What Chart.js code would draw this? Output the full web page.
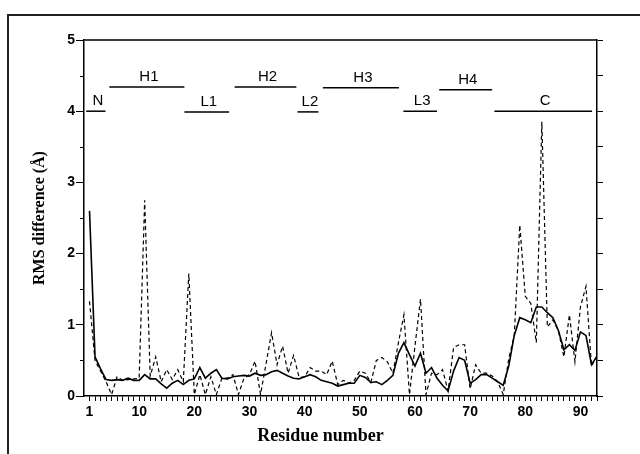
<!DOCTYPE html>
<html>
<head>
<meta charset="utf-8">
<script src="https://cdn.jsdelivr.net/npm/chart.js@4.4.1/dist/chart.umd.min.js"></script>
<style>
  html, body { margin: 0; padding: 0; background: #fff; }
  #wrap { position: relative; width: 640px; height: 454px; overflow: hidden; }
  #frame { position: absolute; left: 7px; top: 14px; width: 640px; height: 460px; border-top: 2px solid #222; border-left: 2px solid #222; pointer-events: none; }
  canvas { position: absolute; left: 0; top: 0; }
</style>
</head>
<body>
<div id="wrap">
  <canvas id="c" width="640" height="454"></canvas>
  <div id="frame"></div>
</div>
<script>
// ---- data ----
const residues = [1,2,3,4,5,6,7,8,9,10,11,12,13,14,15,16,17,18,19,20,21,22,23,24,25,26,27,28,29,30,
  31,32,33,34,35,36,37,38,39,40,41,42,43,44,45,46,47,48,49,50,51,52,53,54,55,56,57,58,59,60,
  61,62,63,64,65,66,67,68,69,70,71,72,73,74,75,76,77,78,79,80,81,82,83,84,85,86,87,88,89,90,91,92,93];

const rmsSolid = [2.6,0.55,0.38,0.23,0.22,0.23,0.22,0.25,0.22,0.22,0.3,0.24,0.24,0.17,0.11,0.18,0.22,0.16,0.22,0.24,
  0.4,0.25,0.32,0.37,0.25,0.24,0.27,0.28,0.29,0.28,0.32,0.29,0.3,0.34,0.36,0.32,0.28,0.25,0.24,0.27,
  0.3,0.27,0.22,0.2,0.18,0.14,0.16,0.18,0.18,0.29,0.26,0.19,0.2,0.16,0.22,0.29,0.6,0.75,0.58,0.42,
  0.6,0.32,0.4,0.25,0.15,0.07,0.35,0.54,0.5,0.18,0.23,0.3,0.3,0.25,0.2,0.15,0.42,0.85,1.1,1.07,
  1.03,1.25,1.25,1.17,1.1,0.92,0.65,0.72,0.64,0.9,0.85,0.44,0.56];

const rmsDashed = [1.33,0.5,0.35,0.2,0.02,0.27,0.22,0.23,0.24,0.25,2.75,0.28,0.55,0.2,0.37,0.23,0.37,0.2,1.72,0.02,
  0.3,0.02,0.27,0.02,0.25,0.25,0.3,0.02,0.25,0.3,0.49,0.02,0.45,0.89,0.44,0.7,0.32,0.57,0.26,0.27,
  0.4,0.35,0.35,0.3,0.49,0.16,0.22,0.18,0.22,0.35,0.32,0.19,0.5,0.54,0.48,0.32,0.75,1.14,0.02,0.7,
  1.36,0.02,0.32,0.3,0.37,0.07,0.68,0.72,0.72,0.1,0.44,0.32,0.32,0.28,0.2,0.02,0.52,0.85,2.4,1.4,
  1.3,0.75,3.85,0.97,1.07,0.92,0.55,1.14,0.48,1.25,1.54,0.42,0.56];

const xTickLabels = [1,10,20,30,40,50,60,70,80,90];
const yTickLabels = [0,1,2,3,4,5];
const yMinorTicks = [0,0.5,1,1.5,2,2.5,3,3.5,4,4.5,5];

// secondary-structure segments (residue ranges, height in Å)
const segNames = ['N','H1','L1','H2','L2','H3','L3','H4','C'];
const segStart = [0.4, 4.6, 18.2, 27.3, 38.7, 43.3, 57.9, 64.4, 74.4];
const segEnd   = [3.9, 18.2, 26.3, 38.5, 42.5, 57.1, 64.0, 74.0, 92.1];
const segLevel = [4.0, 4.34, 3.99, 4.34, 3.99, 4.33, 4.0, 4.3, 4.0];

const xTitle = 'Residue number';
const yTitle = 'RMS difference (Å)';

// ---- chart ----
const tickFont = { family: 'Liberation Sans, Arial, sans-serif', weight: 'bold', size: 14 };

const annot = {
  id: 'annot',
  afterDraw(chart) {
    const ctx = chart.ctx;
    const xs = chart.scales.x, ys = chart.scales.y;
    const ca = chart.chartArea;
    ctx.save();
    // minor ticks on left axis
    ctx.strokeStyle = '#000';
    ctx.lineWidth = 1;
    yMinorTicks.forEach(v => {
      if (Number.isInteger(v)) return;
      const y = Math.round(ys.getPixelForValue(v)) + 0.5;
      ctx.beginPath();
      ctx.moveTo(ca.left - 4, y);
      ctx.lineTo(ca.left, y);
      ctx.stroke();
    });
    // top border
    ctx.lineWidth = 1.5;
    ctx.beginPath();
    ctx.moveTo(ca.left, ca.top);
    ctx.lineTo(ca.right, ca.top);
    ctx.stroke();
    // segments
    ctx.lineWidth = 1.5;
    ctx.fillStyle = '#000';
    ctx.font = '500 15px "Liberation Sans", Arial, sans-serif';
    ctx.textAlign = 'center';
    ctx.textBaseline = 'alphabetic';
    segNames.forEach((name, i) => {
      const x1 = xs.getPixelForValue(segStart[i]);
      const x2 = xs.getPixelForValue(segEnd[i]);
      const y = ys.getPixelForValue(segLevel[i]);
      ctx.beginPath();
      ctx.moveTo(x1, y);
      ctx.lineTo(x2, y);
      ctx.stroke();
      ctx.fillText(name, (x1 + x2) / 2 + 2, y - 6);
    });
    // x axis title
    ctx.font = 'bold 18px "Liberation Serif", "Times New Roman", serif';
    ctx.textBaseline = 'middle';
    ctx.fillText(xTitle, ca.left + (ca.right - ca.left) * 0.461, ca.bottom + 40);
    ctx.restore();
  }
};

new Chart(document.getElementById('c'), {
  type: 'line',
  data: {
    datasets: [
      {
        label: 'solid',
        data: residues.map((r, i) => ({ x: r, y: rmsSolid[i] })),
        borderColor: '#000',
        borderWidth: 1.6,
        pointRadius: 0,
        tension: 0,
        fill: false
      },
      {
        label: 'dashed',
        data: residues.map((r, i) => ({ x: r, y: rmsDashed[i] })),
        borderColor: '#000',
        borderWidth: 1.2,
        borderDash: [4, 3],
        pointRadius: 0,
        tension: 0,
        fill: false
      }
    ]
  },
  options: {
    responsive: false,
    animation: false,
    devicePixelRatio: 1,
    layout: { padding: { top: 40, left: 0, right: 0, bottom: 0 } },
    plugins: { legend: { display: false }, tooltip: { enabled: false } },
    scales: {
      x: {
        type: 'linear',
        position: 'bottom',
        min: 0,
        max: 93,
        afterBuildTicks: s => { s.ticks = residues.map(v => ({ value: v })); },
        afterFit: s => { s.height = 58; },
        ticks: {
          autoSkip: false,
          maxRotation: 0,
          minRotation: 0,
          padding: 3,
          color: '#000',
          font: tickFont,
          callback: v => xTickLabels.includes(v) ? String(v) : ''
        },
        grid: { drawOnChartArea: false, drawTicks: true, tickLength: 5, color: '#000', lineWidth: 1 },
        border: { display: true, color: '#000', width: 1.5 }
      },
      y: {
        position: 'left',
        min: 0,
        max: 5,
        afterBuildTicks: s => { s.ticks = yTickLabels.map(v => ({ value: v })); },
        afterFit: s => { s.width = 84; },
        ticks: { padding: 1, color: '#000', font: tickFont, callback: v => String(v) },
        grid: { drawOnChartArea: false, drawTicks: true, tickLength: 8, color: '#000', lineWidth: 1 },
        border: { display: true, color: '#000', width: 1.5 },
        title: {
          display: true,
          text: yTitle,
          color: '#000',
          font: { family: 'Liberation Serif, Times New Roman, serif', weight: 'bold', size: 16 },
          padding: { top: 30, bottom: 0 }
        }
      },
      y2: {
        position: 'right',
        min: 0,
        max: 5,
        afterBuildTicks: s => { s.ticks = yMinorTicks.map(v => ({ value: v })); },
        afterFit: s => { s.width = 43; },
        ticks: { color: '#000', callback: () => '' },
        grid: { drawOnChartArea: false, drawTicks: true, tickLength: 6, color: '#000', lineWidth: 1 },
        border: { display: true, color: '#000', width: 1.5 }
      }
    }
  },
  plugins: [annot]
});
</script>
</body>
</html>
